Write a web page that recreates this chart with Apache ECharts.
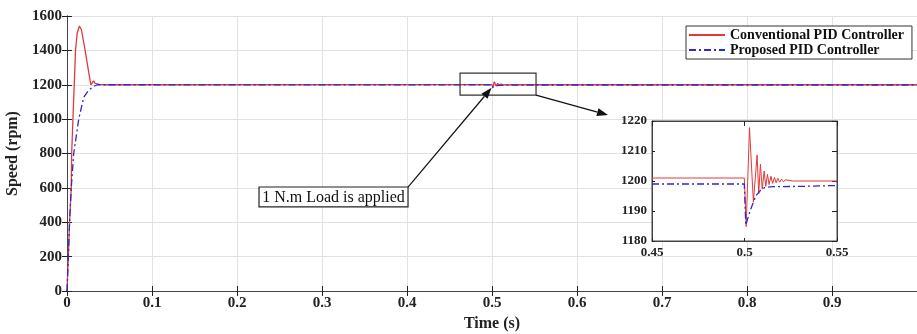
<!DOCTYPE html>
<html>
<head>
<meta charset="utf-8">
<script src="https://cdn.jsdelivr.net/npm/echarts@6/dist/echarts.min.js"></script>
<style>
  html, body { margin: 0; padding: 0; background: #fff; }
  #chart { width: 917px; height: 334px; }
</style>
</head>
<body>
<div id="chart"></div>
<script>
// start-up transient (main plot)
const convStartT = [0, 0.0016, 0.003, 0.005, 0.0055, 0.007, 0.010, 0.012, 0.0146, 0.017, 0.0213, 0.025, 0.028, 0.0298, 0.0313, 0.033, 0.035, 0.038, 0.045];
const convStartV = [0, 200, 400, 600, 800, 1000, 1400, 1500, 1542, 1520, 1400, 1290, 1200, 1200, 1223, 1208, 1198, 1202, 1200];
const propStartT = [0, 0.0016, 0.003, 0.005, 0.0079, 0.0138, 0.0197, 0.025, 0.031, 0.036, 0.045];
const propStartV = [0, 200, 400, 600, 800, 1000, 1127, 1165, 1190, 1200, 1200];

// load step at t = 0.5 s (inset + main)
const convLoadT = [0.45, 0.4999, 0.5003, 0.5009, 0.5027, 0.5048, 0.5068, 0.5077, 0.5086, 0.5096, 0.5106, 0.5115, 0.5124, 0.5133, 0.5143, 0.5152, 0.5162, 0.5171, 0.518, 0.519, 0.52, 0.521, 0.522, 0.523, 0.524, 0.526, 0.53, 0.55];
const convLoadV = [1201, 1201, 1195, 1184.8, 1217.8, 1193, 1208.7, 1195.8, 1205.6, 1197.3, 1203.3, 1198.2, 1202.2, 1198.8, 1201.6, 1199.2, 1201.2, 1199.4, 1200.9, 1199.6, 1200.6, 1199.7, 1200.4, 1199.8, 1200.2, 1200, 1200, 1200];
const propLoadT = [0.45, 0.4999, 0.5007, 0.503, 0.5061, 0.5085, 0.5108, 0.515, 0.53, 0.55];
const propLoadV = [1199, 1199, 1185.3, 1190, 1195, 1196.8, 1197.8, 1198.1, 1198.2, 1198.5];

const xTicksMain = { min: 0, max: 1, step: 0.1 };
const yTicksMain = { min: 0, max: 1600, step: 200 };
const xTicksInset = { min: 0.45, max: 0.55, step: 0.05 };
const yTicksInset = { min: 1180, max: 1220, step: 10 };

const seriesNames = ['Conventional PID Controller', 'Proposed PID Controller'];

const zip = (t, v) => t.map((x, i) => [x, v[i]]);
const convMain = zip(convStartT, convStartV).concat(zip(convLoadT, convLoadV), [[1, 1200]]);
const propMain = zip(propStartT, propStartV).concat(zip(propLoadT, propLoadV), [[1, 1198.5]]);

const FONT = 'Liberation Serif';
const RED = '#e23a3a';
const BLUE = '#2a2ad0';
const DASHDOT = [7, 3, 2, 3];

const chart = echarts.init(document.getElementById('chart'));

const boldLabel = (size, extra) => Object.assign({
  fontFamily: FONT, fontWeight: 'bold', fontSize: size, color: '#222'
}, extra || {});

const mirror = (pos, gridIndex, r, z) => Object.assign({
  type: 'value', gridIndex: gridIndex, position: pos, min: r.min, max: r.max, interval: r.step,
  axisLine: { show: true, lineStyle: { color: '#444' } },
  axisTick: { show: true, inside: true, length: 5, lineStyle: { color: '#222' } },
  axisLabel: { show: false }, splitLine: { show: false }
}, z ? { z: z } : {});

chart.setOption({
  animation: false,
  backgroundColor: '#fff',
  grid: [
    { left: 67, right: 0, top: 16, bottom: 43, outerBoundsMode: 'none', containLabel: false },
    { left: 652, top: 121, width: 185, height: 120, outerBoundsMode: 'none', containLabel: false, show: true, backgroundColor: '#fff', borderColor: '#444', borderWidth: 1, z: 10 }
  ],
  legend: {
    orient: 'vertical', left: 686, top: 26, z: 20,
    backgroundColor: '#fff', borderColor: '#333', borderWidth: 1,
    padding: [2, 8, 2, 2], itemGap: 1, itemWidth: 36, itemHeight: 14,
    itemStyle: { opacity: 0 },
    textStyle: boldLabel(14, { color: '#111' }),
    data: seriesNames
  },
  xAxis: [
    {
      type: 'value', gridIndex: 0, position: 'bottom',
      min: xTicksMain.min, max: xTicksMain.max, interval: xTicksMain.step,
      name: 'Time (s)', nameLocation: 'middle', nameGap: 23,
      nameTextStyle: boldLabel(16),
      axisLine: { show: true, lineStyle: { color: '#444' } },
      axisTick: { show: true, inside: true, length: 5, lineStyle: { color: '#222' } },
      axisLabel: boldLabel(15, { margin: 5, formatter: v => (v >= 1 ? '' : String(+v.toFixed(1))) }),
      splitLine: { show: true, lineStyle: { color: '#e2e2e2' } }
    },
    mirror('top', 0, xTicksMain),
    {
      type: 'value', gridIndex: 1, position: 'bottom', z: 11,
      min: xTicksInset.min, max: xTicksInset.max, interval: xTicksInset.step,
      axisLine: { show: true, lineStyle: { color: '#444' } },
      axisTick: { show: true, inside: true, length: 3, lineStyle: { color: '#222' } },
      axisLabel: boldLabel(13, { margin: 5, formatter: v => String(+v.toFixed(2)) }),
      splitLine: { show: false }
    },
    mirror('top', 1, xTicksInset, 11)
  ],
  yAxis: [
    {
      type: 'value', gridIndex: 0, position: 'left',
      min: yTicksMain.min, max: yTicksMain.max, interval: yTicksMain.step,
      name: 'Speed (rpm)', nameLocation: 'middle', nameGap: 42,
      nameTextStyle: boldLabel(16),
      axisLine: { show: true, lineStyle: { color: '#444' } },
      axisTick: { show: true, inside: true, length: 5, lineStyle: { color: '#222' } },
      axisLabel: boldLabel(15, { margin: 5, formatter: v => String(v) }),
      splitLine: { show: true, lineStyle: { color: '#e2e2e2' } }
    },
    mirror('right', 0, yTicksMain),
    {
      type: 'value', gridIndex: 1, position: 'left', z: 11,
      min: yTicksInset.min, max: yTicksInset.max, interval: yTicksInset.step,
      axisLine: { show: true, lineStyle: { color: '#444' } },
      axisTick: { show: true, inside: true, length: 3, lineStyle: { color: '#222' } },
      axisLabel: boldLabel(13, { margin: 5, formatter: v => String(v) }),
      splitLine: { show: false }
    },
    mirror('right', 1, yTicksInset, 11)
  ],
  series: [
    {
      name: seriesNames[0], type: 'line', xAxisIndex: 0, yAxisIndex: 0,
      data: convMain, symbol: 'none', z: 3,
      lineStyle: { color: RED, width: 1.3 }, itemStyle: { color: RED }
    },
    {
      name: seriesNames[1], type: 'line', xAxisIndex: 0, yAxisIndex: 0,
      data: propMain, symbol: 'none', z: 4,
      lineStyle: { color: BLUE, width: 1.3, type: DASHDOT }, itemStyle: { color: BLUE }
    },
    {
      name: seriesNames[0], type: 'line', xAxisIndex: 2, yAxisIndex: 2,
      data: zip(convLoadT, convLoadV), symbol: 'none', z: 12,
      lineStyle: { color: RED, width: 1 }, itemStyle: { color: RED }
    },
    {
      name: seriesNames[1], type: 'line', xAxisIndex: 2, yAxisIndex: 2,
      data: zip(propLoadT, propLoadV), symbol: 'none', z: 13,
      lineStyle: { color: BLUE, width: 1.3, type: DASHDOT }, itemStyle: { color: BLUE }
    }
  ]
});

// annotations: zoom box, arrows, text label (anchored in main-axis data coords)
const px = p => chart.convertToPixel({ xAxisIndex: 0, yAxisIndex: 0 }, p);
const arrow = (from, to) => {
  const a = Math.atan2(to[1] - from[1], to[0] - from[0]);
  const L = 11, W = 4;
  const bx = to[0] - L * Math.cos(a), by = to[1] - L * Math.sin(a);
  return [
    { type: 'line', z: 30, shape: { x1: from[0], y1: from[1], x2: bx, y2: by }, style: { stroke: '#111', lineWidth: 1.2 } },
    { type: 'polygon', z: 30, shape: { points: [to, [bx - W * Math.sin(a), by + W * Math.cos(a)], [bx + W * Math.sin(a), by - W * Math.cos(a)]] }, style: { fill: '#111' } }
  ];
};
const boxTL = px([0.4624, 1268]), boxBR = px([0.5518, 1140]);
const labTL = px([0.2259, 605]), labBR = px([0.4012, 489]);
const tip1 = px([0.4995, 1182]);
const tip2 = px([0.6365, 1024]);

chart.setOption({
  graphic: [
    { type: 'rect', z: 30, shape: { x: boxTL[0], y: boxTL[1], width: boxBR[0] - boxTL[0], height: boxBR[1] - boxTL[1] }, style: { fill: 'none', stroke: '#333', lineWidth: 1.2 } },
    { type: 'rect', z: 30, shape: { x: labTL[0], y: labTL[1], width: labBR[0] - labTL[0], height: labBR[1] - labTL[1] }, style: { fill: '#fff', stroke: '#222', lineWidth: 1.2 } },
    { type: 'text', z: 31, x: (labTL[0] + labBR[0]) / 2, y: (labTL[1] + labBR[1]) / 2 + 1, style: { text: '1 N.m Load is applied', fontFamily: FONT, fontSize: 16, fill: '#111', align: 'center', verticalAlign: 'middle' } }
  ].concat(arrow([labBR[0], labTL[1]], tip1), arrow([boxBR[0], boxBR[1]], tip2))
});
</script>
</body>
</html>
